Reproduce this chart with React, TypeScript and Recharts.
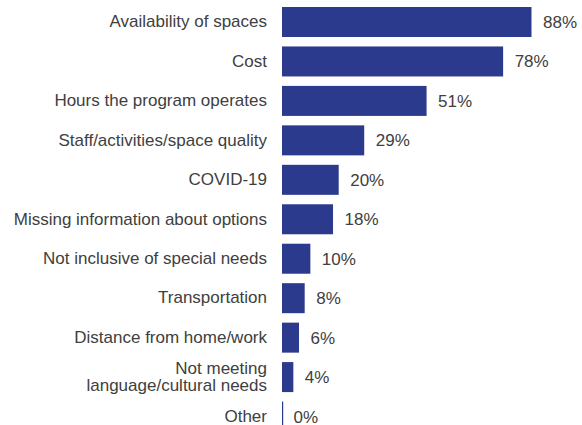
import { BarChart, Bar, XAxis, YAxis, LabelList } from 'recharts'

const CATEGORIES = [
  'Availability of spaces',
  'Cost',
  'Hours the program operates',
  'Staff/activities/space quality',
  'COVID-19',
  'Missing information about options',
  'Not inclusive of special needs',
  'Transportation',
  'Distance from home/work',
  'Not meeting\nlanguage/cultural needs',
  'Other',
]
const VALUES = [88, 78, 51, 29, 20, 18, 10, 8, 6, 4, 0]

const data = CATEGORIES.map((name, i) => ({ name, value: VALUES[i] }))

const BAR_COLOR = '#2b3a8c'
const TEXT_COLOR = '#404040'
const FONT = 'Liberation Sans, Arial, sans-serif'
const FS = 17

const CategoryTick = ({ x, y, payload }: any) => {
  const lines = String(payload.value).split('\n')
  const lh = 17.5
  const start = -((lines.length - 1) * lh) / 2
  return (
    <text x={x} y={y} textAnchor="end" fill={TEXT_COLOR} fontSize={FS} fontFamily={FONT}>
      {lines.map((l, i) => (
        <tspan key={i} x={x} dy={i === 0 ? start + 5.5 : lh}>
          {l}
        </tspan>
      ))}
    </text>
  )
}

// zero values still get a hairline, like the source
const BarShape = ({ x, y, width, height, fill }: any) => (
  <rect x={x} y={y} width={Math.max(width, 1.2)} height={height} fill={fill} />
)

const ValueLabel = ({ x, y, width, height, value }: any) => (
  <text
    x={x + width + 11.5}
    y={y + height / 2 + 6}
    fill={TEXT_COLOR}
    fontSize={FS}
    fontFamily={FONT}
  >
    {value}%
  </text>
)

export default function App() {
  return (
    <div style={{ position: 'absolute', left: 0, top: 0, width: 582, height: 425, overflow: 'hidden', background: '#fff' }}>
      <BarChart
        width={582}
        height={440}
        data={data}
        layout="vertical"
        margin={{ top: 2, right: 16.5, bottom: 4, left: 0 }}
      >
        <XAxis type="number" domain={[0, 100]} hide />
        <YAxis
          type="category"
          dataKey="name"
          width={282}
          axisLine={false}
          tickLine={false}
          tick={<CategoryTick />}
          tickMargin={9}
          interval={0}
        />
        <Bar dataKey="value" fill={BAR_COLOR} barSize={30} shape={<BarShape />} isAnimationActive={false}>
          <LabelList dataKey="value" content={<ValueLabel />} />
        </Bar>
      </BarChart>
    </div>
  )
}
